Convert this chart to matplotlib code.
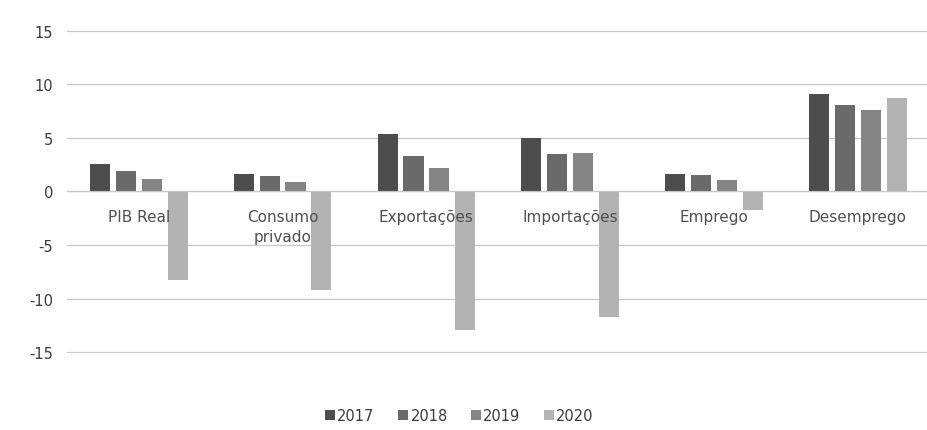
import numpy as np
import matplotlib.pyplot as plt

# Annual growth rates (%); Desemprego is the rate level
categories = ['PIB Real', 'Consumo\nprivado', 'Exportações', 'Importações', 'Emprego', 'Desemprego']
years = ['2017', '2018', '2019', '2020']
v2017 = [2.6, 1.6, 5.4, 5.0, 1.6, 9.1]
v2018 = [1.9, 1.4, 3.3, 3.5, 1.5, 8.1]
v2019 = [1.2, 0.9, 2.2, 3.6, 1.1, 7.6]
v2020 = [-8.3, -9.2, -12.9, -11.7, -1.7, 8.7]
yticks = [-15, -10, -5, 0, 5, 10, 15]

plt.rcParams['font.family'] = ['DejaVu Sans']
plt.rcParams['axes.unicode_minus'] = False

colors = ['#4d4d4d', '#6a6a6a', '#858585', '#b3b3b3']
series = [v2017, v2018, v2019, v2020]

fig = plt.figure(figsize=(9.28, 4.31), dpi=100)
ax = fig.add_axes([0.072, 0.179, 0.93, 0.749])

x = np.arange(len(categories))
width = 0.14
step = 0.18
for i, (vals, year) in enumerate(zip(series, years)):
    ax.bar(x + (i - 1.5) * step, vals, width, color=colors[i], label=year, zorder=2)

ax.set_xlim(-0.5, len(categories) - 0.5)
ax.set_ylim(-15.05, 15.05)
ax.set_yticks(yticks)
ax.set_yticklabels([str(t) for t in yticks], fontsize=10.5, color='#3a3a3a')
ax.yaxis.grid(True, color='#c8c8c8', linewidth=0.9, zorder=0)
ax.tick_params(axis='y', length=0, pad=10)

# category labels sit just below the zero line, drawn over the bars
ax.spines['bottom'].set_position(('data', 0))
ax.spines['bottom'].set_color('#c8c8c8')
for s in ['top', 'left', 'right']:
    ax.spines[s].set_visible(False)
ax.set_xticks(x)
ax.set_xticklabels(categories, fontsize=11, color='#505050', linespacing=1.35)
ax.tick_params(axis='x', length=0, pad=13)
ax.xaxis.set_zorder(3)

fig.legend(loc='lower center', bbox_to_anchor=(0.495, -0.015), ncol=4, frameon=False,
           fontsize=10.5, handlelength=0.7, handleheight=0.7, handletextpad=0.15,
           columnspacing=1.6, labelcolor='#3a3a3a')

fig.savefig('out.png', dpi=100, facecolor='white')
